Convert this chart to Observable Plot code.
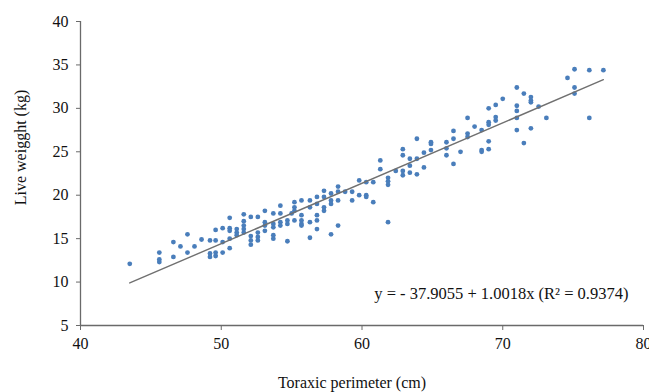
<!DOCTYPE html>
<html><head><meta charset="utf-8">
<script src="https://cdn.jsdelivr.net/npm/d3@7"></script>
<script src="https://cdn.jsdelivr.net/npm/@observablehq/plot@0.6"></script>
<style>
body{margin:0;background:#fff}
#chart svg{font-family:"Liberation Serif","Times New Roman",serif;}
</style>
</head><body><div id="chart"></div>
<script>
// Toraxic perimeter (cm)
const girth = [
43.5,45.6,45.6,45.6,46.6,46.6,47.1,47.6,47.6,48.1,48.6,49.2,49.2,49.2,49.6,49.6,49.6,49.6,
50.1,50.1,50.1,50.6,50.6,50.6,50.6,50.6,51.1,51.1,51.1,51.6,51.6,51.6,51.6,51.6,
52.1,52.1,52.1,52.1,52.6,52.6,52.6,52.6,53.1,53.1,53.1,53.1,53.7,53.7,53.7,53.7,53.7,
54.2,54.2,54.2,54.2,54.7,54.7,54.7,55.0,55.2,55.2,55.2,55.2,55.7,55.7,55.7,55.7,55.7,
56.3,56.3,56.3,56.3,56.8,56.8,56.8,56.8,56.8,57.3,57.3,57.3,57.3,57.8,57.8,57.8,57.8,
58.3,58.3,58.3,58.3,58.8,59.3,59.3,59.8,59.8,60.3,60.3,60.3,60.8,60.8,61.3,61.3,
61.85,61.85,61.85,61.85,62.4,62.9,62.9,62.9,62.9,63.4,63.4,63.4,63.9,63.9,63.9,64.4,64.4,
64.9,64.9,64.9,66.0,66.0,66.0,66.5,66.5,66.5,67.0,67.5,67.5,67.5,68.0,68.5,68.5,68.5,
69.0,69.0,69.0,69.0,69.0,69.5,69.5,69.5,70.0,71.0,71.0,71.0,71.0,71.0,71.5,71.5,
72.0,72.0,72.0,72.0,72.55,73.1,74.6,75.1,75.1,75.1,76.15,76.15,77.15
];
// Live weight (kg)
const weight = [
12.1,13.4,12.6,12.3,12.9,14.6,14.1,15.5,13.4,14.1,14.9,14.8,13.3,12.9,16.0,14.8,13.4,13.0,
16.2,14.6,13.4,17.4,16.2,15.9,15.0,13.9,16.1,15.7,15.4,17.8,17.0,16.5,16.1,15.7,
17.5,15.3,14.8,14.3,17.5,15.7,15.2,14.8,18.2,16.9,16.5,15.9,17.9,16.7,16.3,15.4,15.0,
18.8,17.9,16.9,16.5,17.1,16.7,14.7,17.9,19.2,18.6,18.2,17.1,19.4,17.7,17.1,16.7,16.5,
19.4,18.6,16.9,15.1,19.8,19.0,17.7,17.1,16.1,20.5,19.8,18.6,18.2,20.2,19.4,19.0,15.5,
21.0,20.4,19.4,16.5,20.4,20.4,19.4,21.7,20.0,21.5,20.0,19.8,21.5,19.2,24.0,23.0,
22.0,21.6,21.2,16.9,22.8,25.3,24.6,22.8,22.3,24.2,23.4,22.6,26.5,24.2,22.4,24.9,23.2,
26.1,25.9,25.2,26.1,25.4,24.6,27.4,26.5,23.6,25.0,28.9,27.1,26.7,27.9,27.5,25.2,25.0,
30.0,28.4,28.1,26.2,25.3,30.4,29.0,28.6,31.1,32.4,30.3,29.7,28.9,27.5,31.7,26.0,
31.3,30.9,30.7,27.7,30.2,28.9,33.5,34.5,32.4,31.7,34.4,28.9,34.4
];
// Equation as printed on the chart
const intercept = -37.9055;
const slope = 1.0018;
const rSquared = 0.9374;
// Trend line as drawn: weight read at the smallest and largest perimeter
const trendEndWeights = [9.9, 33.3];

const xTicks = [40, 50, 60, 70, 80];
const yTicks = [5, 10, 15, 20, 25, 30, 35, 40];
const xTitle = "Toraxic perimeter (cm)";
const yTitle = "Live weigght (kg)";
const eqLabel = `y = - ${Math.abs(intercept)} + ${slope}x (R\u00B2 = ${rSquared})`;

const points = girth.map((x, i) => ({x, y: weight[i]}));
const fit = d3.extent(girth).map((x, i) => ({x, y: trendEndWeights[i]}));

const axisColor = "#6a6a6a";

const chart = Plot.plot({
  width: 649,
  height: 392,
  marginLeft: 80,
  marginRight: 6,
  marginTop: 21,
  marginBottom: 67,
  style: {fontFamily: '"Liberation Serif","Times New Roman",serif', fontSize: "16px", color: "#000", background: "#fff"},
  x: {domain: [40, 80]},
  y: {domain: [5, 40]},
  marks: [
    Plot.ruleX([40], {stroke: axisColor, strokeWidth: 1.3}),
    Plot.ruleY([5], {stroke: axisColor, strokeWidth: 1.3}),
    Plot.axisX({ticks: xTicks, tickSize: 5, tickPadding: 7, label: null, stroke: axisColor, fill: "#111", fontSize: 16}),
    Plot.axisY({ticks: yTicks, tickSize: 4, tickPadding: 8, label: null, stroke: axisColor, fill: "#111", fontSize: 16}),
    Plot.dot(points, {x: "x", y: "y", r: 2.4, fill: "#4a7ebb", stroke: "none"}),
    Plot.line(fit, {x: "x", y: "y", stroke: "#707070", strokeWidth: 1.4}),
    Plot.text([eqLabel], {frameAnchor: "bottom-right", textAnchor: "end", lineAnchor: "middle", dx: -15, dy: -32, fontSize: 16.5, fill: "#111"}),
    Plot.text([xTitle], {frameAnchor: "bottom", lineAnchor: "middle", dx: -10, dy: 57, fontSize: 16, fill: "#111"}),
    Plot.text([yTitle], {frameAnchor: "left", rotate: -90, textAnchor: "middle", lineAnchor: "middle", dx: -60, dy: -26, fontSize: 16, fill: "#111"})
  ]
});
document.getElementById("chart").appendChild(chart);
</script>
</body></html>
